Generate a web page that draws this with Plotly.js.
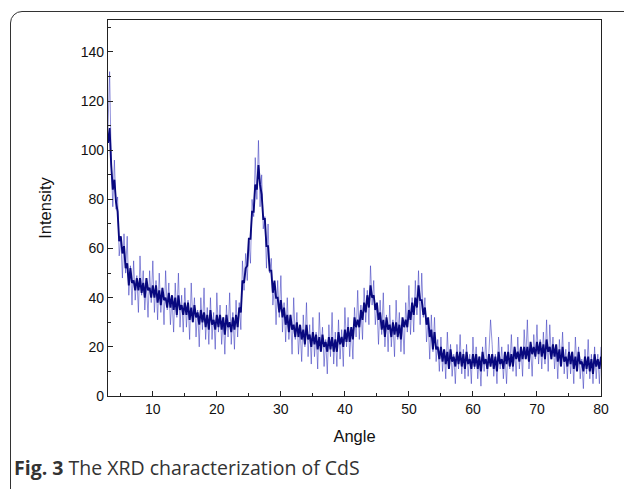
<!DOCTYPE html>
<html>
<head>
<meta charset="utf-8">
<script src="https://cdn.plot.ly/plotly-3.0.1.min.js"></script>
<style>
  html, body { margin: 0; padding: 0; background: #fff; }
  #wrap { position: relative; width: 624px; height: 489px; overflow: hidden; }
  #frame { position: absolute; left: 10px; top: 11px; width: 700px; height: 600px;
           border: 1.5px solid #333; border-radius: 12px; box-sizing: border-box; }
  #chart { position: absolute; left: 0; top: 0; width: 624px; height: 489px; }
</style>
</head>
<body>
<div id="wrap">
  <div id="frame"></div>
  <div id="chart"></div>
</div>
<script>
// Angle grid of the scan (degrees 2θ): first point and spacing
const angleStart = 3;
const angleStep = 0.25;

// Raw noisy intensity (light fringe), one value per 0.25°, 3° … 80°
const rawIntensity = [
  109,132,96,77,  96,76,81,57,  64,48,66,50,  65,41,53,37,  55,39,49,34,
  57,41,51,35,  46,32,51,38,  55,34,47,31,  50,34,44,29,  51,35,46,29,
  40,26,46,32,  50,28,41,26,  44,28,39,23,  46,30,40,24,  35,20,40,27,
  44,23,36,21,  40,23,34,19,  42,26,37,21,  32,17,37,24,  42,21,34,19,
  39,24,38,27,  55,43,58,47,  63,54,80,73,  97,80,104,77, 90,68,73,52,
  70,50,56,37,  45,29,47,32,  49,26,38,22,  40,23,33,17,  40,23,34,17,
  28,14,33,20,  38,16,29,13,  32,16,26,11,  34,18,28,12,  23,9,29,16,
  34,13,26,12,  31,15,27,12,  36,20,32,16,  28,15,36,24,  43,23,37,23,
  44,30,43,29,  53,37,47,29,  37,21,39,25,  42,20,33,18,  37,20,31,16,
  39,23,34,18,  30,17,38,26,  45,25,40,26,  47,33,51,29,  50,32,40,22,
  31,15,33,18,  32,14,23,10,  24,10,19,7,   26,12,21,8,   17,5,21,11,
  25,9,19,7,    21,8,17,5,    24,11,20,7,   16,4,20,10,   24,8,18,31,
  21,8,17,5,    24,11,20,7,   17,5,21,11,   25,10,20,8,   24,11,20,8,
  27,15,31,11,  20,8,25,15,   29,13,23,11,  26,13,31,10,  29,15,24,11,
  20,7,23,12,   26,9,19,7,    22,9,18,5,    24,11,20,7,   15,3,19,9,
  23,7,17,5,    20,7,17,5,    20
];

// Core of the signal (dark trace), same grid
const coreIntensity = [
  103,109,94,84,  88,79,75,63,  65,58,61,52,  54,45,52,46,  47,43,48,43,
  48,42,46,40,  48,43,44,40,  45,40,45,38,  43,37,44,39,  40,36,42,36,
  41,35,40,33,  41,35,37,33,  38,33,38,31,  36,30,37,32,  34,29,35,30,
  34,28,33,27,  35,29,31,27,  33,28,33,27,  32,25,33,28,  30,26,32,27,
  33,28,36,34,  47,46,52,53,  64,64,75,75,  86,84,94,86,  82,72,72,61,
  61,51,51,42,  47,40,40,34,  39,32,36,29,  33,26,33,27,  29,24,30,24,
  29,23,27,21,  29,23,25,20,  26,21,25,19,  24,18,25,20,  22,18,24,19,
  24,18,23,18,  26,21,24,20,  27,22,28,22,  28,23,32,28,  31,28,35,31,
  38,34,41,36,  45,40,41,35,  38,31,34,27,  31,24,32,27,  29,24,30,25,
  30,24,29,23,  32,28,31,28,  35,31,38,33,  40,36,45,39,  39,33,36,29,
  32,24,27,19,  26,19,20,15,  20,14,19,13,  18,11,19,14,  16,12,18,13,
  18,12,17,11,  18,13,15,11,  17,12,17,11,  16,10,18,13,  15,11,17,12,
  17,11,16,10,  18,13,15,11,  18,13,18,12,  17,12,20,15,  18,14,20,15,
  20,15,20,14,  22,17,20,16,  22,17,22,16,  21,15,23,18,  20,15,21,16,
  21,14,19,12,  20,14,16,12,  18,13,18,11,  16,10,18,13,  14,10,16,11,
  16,10,15,9,   17,12,15,11,  16
];

// Axis ticks
const xTickValues = [10, 20, 30, 40, 50, 60, 70, 80];
const yTickValues = [0, 20, 40, 60, 80, 100, 120, 140];

const tickFont = { family: 'Liberation Sans, Arial, sans-serif', size: 14, color: '#111' };
const titleFont = { family: 'Liberation Sans, Arial, sans-serif', size: 16.5, color: '#111' };

const traces = [
  {
    type: 'scatter', mode: 'lines',
    x0: angleStart, dx: angleStep, y: rawIntensity,
    line: { color: 'rgba(55,55,190,0.55)', width: 1 },
    hoverinfo: 'skip', showlegend: false
  },
  {
    type: 'scatter', mode: 'lines',
    x0: angleStart, dx: angleStep, y: coreIntensity,
    line: { color: '#08087e', width: 1.9 },
    showlegend: false
  }
];

const layout = {
  width: 624, height: 489,
  margin: { l: 108, r: 23, t: 20, b: 93 },
  paper_bgcolor: 'rgba(0,0,0,0)',
  plot_bgcolor: '#fff',
  showlegend: false,
  xaxis: {
    range: [3, 80],
    tickvals: xTickValues,
    ticks: 'inside', ticklen: 5, tickwidth: 1, tickcolor: '#222',
    minor: { dtick: 5, tick0: 0, ticks: 'inside', ticklen: 3, tickcolor: '#222', showgrid: false },
    showline: true, linecolor: '#222', linewidth: 1.2, mirror: true,
    showgrid: false, zeroline: false,
    tickfont: tickFont,
    title: { text: 'Angle', font: titleFont, standoff: 14 }
  },
  yaxis: {
    range: [0, 153],
    tickvals: yTickValues,
    ticks: 'inside', ticklen: 5, tickwidth: 1, tickcolor: '#222',
    minor: { dtick: 10, tick0: 0, ticks: 'inside', ticklen: 3, tickcolor: '#222', showgrid: false },
    showline: true, linecolor: '#222', linewidth: 1.2, mirror: true,
    showgrid: false, zeroline: false,
    tickfont: tickFont,
    title: { text: 'Intensity', font: titleFont, standoff: 24 }
  },
  annotations: [
    {
      xref: 'paper', yref: 'paper',
      x: (12 - 108) / 493, y: (396 - 467) / 376,
      xanchor: 'left', yanchor: 'middle', showarrow: false,
      text: '<b>Fig. 3</b> The XRD characterization of CdS',
      font: { family: 'Open Sans, Noto Sans, sans-serif', size: 19.5, color: '#333' }
    }
  ]
};

Plotly.newPlot('chart', traces, layout, { displayModeBar: false, staticPlot: true });
</script>
</body>
</html>
